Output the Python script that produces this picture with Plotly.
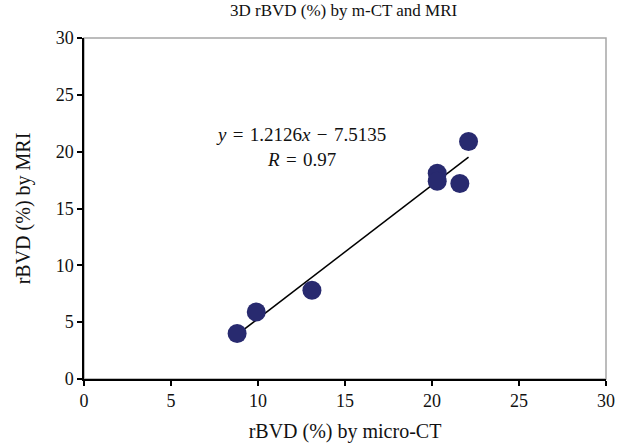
import numpy as np
import plotly.graph_objects as go

micro_ct = [8.8, 9.9, 13.1, 20.3, 20.3, 21.6, 22.1]
mri = [4.0, 5.9, 7.8, 18.1, 17.4, 17.2, 20.9]
tick_vals = [0, 5, 10, 15, 20, 25, 30]
SP = "\u2004"
eq_text = f"<i>y</i>{SP}={SP}1.2126<i>x</i>{SP}−{SP}7.5135"
r_text = f"<i>R</i>{SP}={SP}0.97"

slope, intercept = np.polyfit(micro_ct, mri, 1)
fx = [min(micro_ct), max(micro_ct)]
fy = [slope * v + intercept for v in fx]

FONT = "Liberation Serif, Times New Roman, serif"
fig = go.Figure()
fig.add_trace(go.Scatter(x=fx, y=fy, mode="lines",
                         line=dict(color="black", width=1.5), hoverinfo="skip"))
fig.add_trace(go.Scatter(x=micro_ct, y=mri, mode="markers",
                         marker=dict(size=19, color="#282a6f", line=dict(width=0))))

fig.add_shape(type="rect", xref="x domain", yref="y domain", x0=0, x1=1, y0=0, y1=1,
              line=dict(color="#a6a6a6", width=1.5), layer="below")

fig.add_annotation(x=0.415, y=0.68, xref="paper", yref="paper", text=eq_text + "<br>" + r_text,
                   showarrow=False, font=dict(family=FONT, size=19, color="#111"),
                   align="center", xanchor="center", yanchor="middle")

fig.update_layout(
    width=627, height=448,
    margin=dict(l=84, r=21, t=38, b=69),
    paper_bgcolor="white", plot_bgcolor="white",
    showlegend=False,
    font=dict(family=FONT, size=18, color="#111"),
    title=dict(text="3D rBVD (%) by m-CT and MRI", x=0.548, xanchor="center",
               y=0.99, yanchor="top", font=dict(family=FONT, size=17, color="#111")),
    xaxis=dict(range=[0, 30], tickvals=tick_vals, showgrid=False, zeroline=False,
               showline=True, linecolor="black", linewidth=1.5, automargin=False,
               ticks="outside", ticklen=5, tickcolor="black", tickwidth=1.5,
               tickfont=dict(family=FONT, size=18),
               title=dict(text="rBVD (%) by micro-CT", standoff=14,
                          font=dict(family=FONT, size=20))),
    yaxis=dict(range=[0, 30], tickvals=tick_vals, showgrid=False, zeroline=False,
               showline=True, linecolor="black", linewidth=1.5, automargin=False,
               ticks="outside", ticklen=5, tickcolor="black", tickwidth=1.5,
               tickfont=dict(family=FONT, size=18),
               title=dict(text="rBVD (%) by MRI", standoff=20,
                          font=dict(family=FONT, size=20))),
)
fig.write_html("out.html", config={"displayModeBar": False},
               post_script="document.body.style.margin='0px';document.body.style.padding='0px';")
